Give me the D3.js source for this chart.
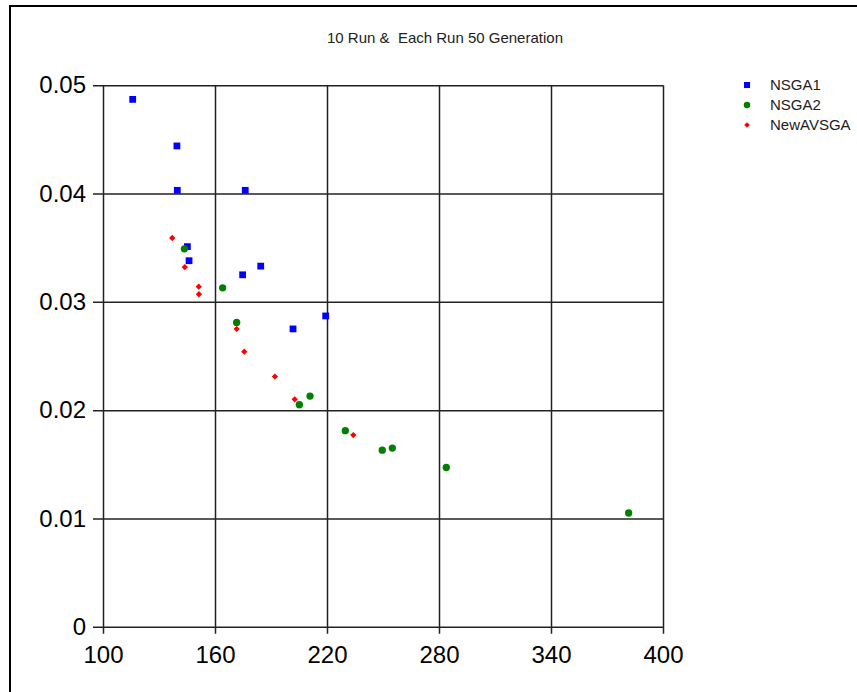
<!DOCTYPE html>
<html>
<head>
<meta charset="utf-8">
<script src="https://cdn.jsdelivr.net/npm/d3@7"></script>
<style>
  body { margin: 0; background: #fff; }
  svg { display: block; font-family: "Liberation Sans", Arial, sans-serif; }
</style>
</head>
<body>
<div id="chartArea"></div>
<script>
// values
const seriesNames = ["NSGA1", "NSGA2", "NewAVSGA"];
const seriesColors = ["#0000ff", "#008000", "#ff0000"];

const nsga1X = [115.9, 139.6, 139.8, 176.2, 145.2, 146.1, 174.8, 184.5, 201.8, 219.3];
const nsga1Y = [0.0487, 0.0444, 0.0403, 0.0403, 0.0351, 0.0338, 0.0325, 0.0333, 0.0275, 0.0287];

const nsga2X = [143.6, 164.1, 171.6, 205.2, 210.9, 229.8, 249.6, 255.0, 283.9, 381.6];
const nsga2Y = [0.0349, 0.0313, 0.0281, 0.0205, 0.0213, 0.0181, 0.0163, 0.0165, 0.0147, 0.0105];

const newX = [137.1, 143.8, 151.3, 151.4, 171.6, 175.7, 192.1, 202.7, 234.1];
const newY = [0.0359, 0.0332, 0.0314, 0.0307, 0.0275, 0.0254, 0.0231, 0.0210, 0.0177];

const xTicks = [100, 160, 220, 280, 340, 400];
const yTicks = [0, 0.01, 0.02, 0.03, 0.04, 0.05];

const titleText = "10 Run &  Each Run 50 Generation";

const W = 857, H = 692;
const plot = { left: 103, top: 85.3, right: 663, bottom: 626.7 };

const svg = d3.select("#chartArea").append("svg")
  .attr("width", W)
  .attr("height", H);

// outer frame
svg.append("rect")
  .attr("x", 10).attr("y", 6)
  .attr("width", 870).attr("height", 720)
  .attr("fill", "none")
  .attr("stroke", "#000")
  .attr("stroke-width", 2);

const x = d3.scaleLinear().domain([100, 400]).range([plot.left, plot.right]);
const y = d3.scaleLinear().domain([0, 0.05]).range([plot.bottom, plot.top]);
const pw = plot.right - plot.left, ph = plot.bottom - plot.top;

// x grid + labels
const gx = svg.append("g")
  .attr("transform", `translate(0,${plot.bottom})`)
  .call(d3.axisBottom(x).tickValues(xTicks).tickSize(-ph).tickPadding(19).tickFormat(d3.format("d")));
gx.select(".domain").remove();
gx.selectAll(".tick line").attr("y1", 7).attr("stroke", "#222").attr("stroke-width", 1.5);
gx.selectAll(".tick text").attr("font-size", 24).attr("fill", "#000")
  .attr("font-family", "Liberation Sans, Arial, sans-serif");

// y grid + labels
const gy = svg.append("g")
  .attr("transform", `translate(${plot.left},0)`)
  .call(d3.axisLeft(y).tickValues(yTicks).tickSize(-pw).tickPadding(17)
    .tickFormat(d => d === 0 ? "0" : d3.format(".2f")(d)));
gy.select(".domain").remove();
gy.selectAll(".tick line").attr("x1", -10).attr("stroke", "#222").attr("stroke-width", 1.5);
gy.selectAll(".tick text").attr("font-size", 24).attr("fill", "#000")
  .attr("font-family", "Liberation Sans, Arial, sans-serif");

// title (keep the double space)
svg.append("text")
  .attr("x", 445).attr("y", 43)
  .attr("text-anchor", "middle")
  .attr("font-size", 15)
  .attr("fill", "#222")
  .style("white-space", "pre")
  .text(titleText);

// markers: square, circle, diamond (rotated square)
const shapes = [d3.symbolSquare, d3.symbolCircle, d3.symbolSquare];
const sizes = [46, 42, 20];
const rot = [0, 0, 45];
const sym = i => d3.symbol().type(shapes[i]).size(sizes[i]);

const allSeries = [
  d3.zip(nsga1X, nsga1Y),
  d3.zip(nsga2X, nsga2Y),
  d3.zip(newX, newY)
];

allSeries.forEach((pts, i) => {
  svg.append("g").selectAll("path")
    .data(pts)
    .enter()
    .append("path")
    .attr("d", sym(i))
    .attr("transform", d => `translate(${x(d[0])},${y(d[1])}) rotate(${rot[i]})`)
    .attr("fill", seriesColors[i]);
});

// legend
const leg = svg.append("g").attr("transform", "translate(747,85)");
seriesNames.forEach((name, i) => {
  leg.append("path")
    .attr("d", d3.symbol().type(shapes[i]).size(sizes[i] * 0.8))
    .attr("transform", `translate(0,${i * 20}) rotate(${rot[i]})`)
    .attr("fill", seriesColors[i]);
  leg.append("text")
    .attr("x", 23).attr("y", i * 20 + 5)
    .attr("font-size", 15)
    .attr("fill", "#222")
    .text(name);
});
</script>
</body>
</html>
